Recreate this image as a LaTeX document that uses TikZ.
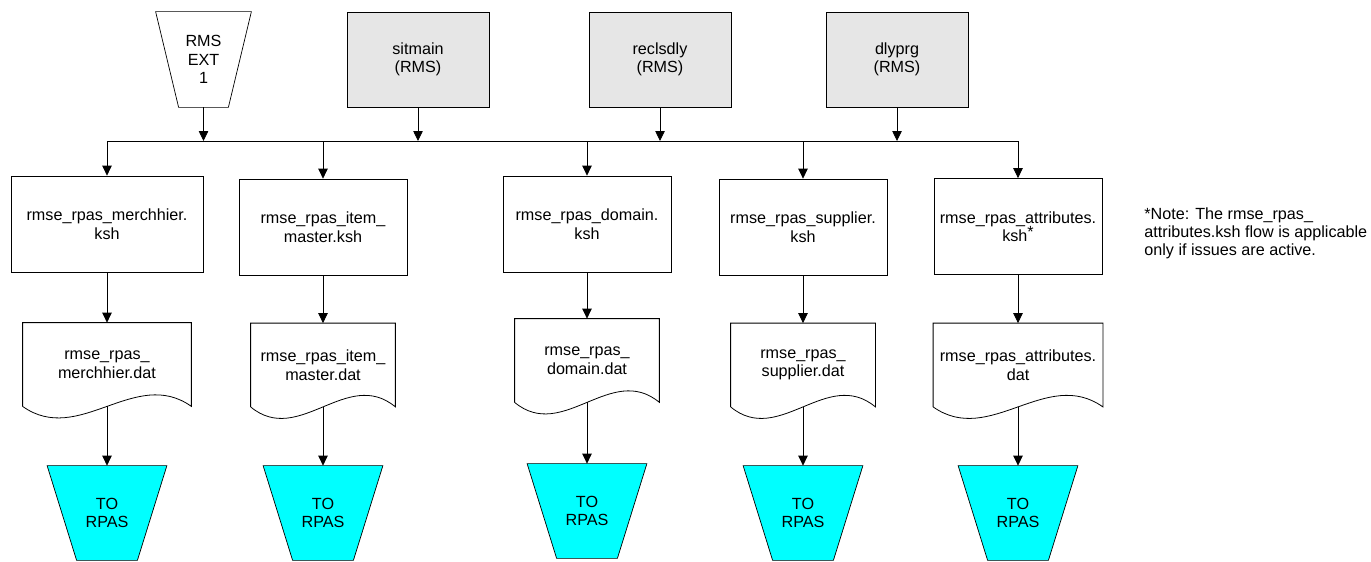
\documentclass[tikz,border=0pt]{standalone}
\usepackage{fontspec}
\setmainfont{Liberation Sans}
\usepackage{tikz}
\usetikzlibrary{arrows.meta,positioning,calc,backgrounds}
\definecolor{rmsgray}{HTML}{E6E6E6}
\definecolor{rpascyan}{HTML}{00FFFF}

% outline of a data file: straight top and sides, wavy bottom
\newcommand{\docwave}[1]{%
  \draw (#1.south west) -- (#1.north west) -- (#1.north east) -- (#1.south east)
    .. controls ($(#1.south east)!0.333!(#1.south west)+(0,-40)$) and ($(#1.south east)!0.667!(#1.south west)+(0,40)$) .. (#1.south west);}
% funnel outline: wide top, bottom narrowed by #2 on each side
\newcommand{\funnel}[3]{%
  \draw[fill=#3] (#1.north west) -- (#1.north east) -- ($(#1.south east)+(-#2,0)$) -- ($(#1.south west)+(#2,0)$) -- cycle;}

\begin{document}
\begin{tikzpicture}[
    x=0.02cm, y=-0.02cm, line width=0.45pt, font=\fontsize{9.2}{10.5}\selectfont,
    rmsbox/.style={draw, fill=rmsgray, minimum width=2.84cm, minimum height=1.9cm, align=center},
    kshbox/.style={draw, minimum width=3.36cm, minimum height=1.92cm, align=center},
    datbox/.style={minimum width=2.88cm, minimum height=1.66cm, align=center},
    extin/.style={minimum width=1.9cm, minimum height=1.9cm, inner sep=0pt, align=center},
    rpas/.style={minimum width=2.38cm, minimum height=1.88cm, inner sep=0pt, align=center},
    arrow/.style={-{Triangle[length=2mm, width=1.9mm]}}
]
\useasboundingbox (0,0) rectangle (1371,561);

\node[extin] (ext) at (203.5,59.5) {RMS\\EXT\\1};
\node[rmsbox] (sitmain) at (418,59.5) {sitmain\\(RMS)};
\node[rmsbox] (reclsdly) at (660,59.5) {reclsdly\\(RMS)};
\node[rmsbox] (dlyprg) at (897,59.5) {dlyprg\\(RMS)};

\coordinate (busL) at (107,141);
\coordinate (busR) at (1018,141);

\node[kshbox, minimum width=3.84cm] (merch-ksh) at (107,224) {rmse\_rpas\_merchhier.\\ksh};
\node[kshbox] (item-ksh) at (323,227) {rmse\_rpas\_item\_\\master.ksh};
\node[kshbox] (domain-ksh) at (587,224) {rmse\_rpas\_domain.\\ksh};
\node[kshbox] (supp-ksh) at (803,227) {rmse\_rpas\_supplier.\\ksh};
\node[kshbox] (attr-ksh) at (1018,226.5) {rmse\_rpas\_attributes.\\ksh\raisebox{0.45ex}{*}};

\node[datbox, minimum width=3.36cm] (merch-dat) at (107,364.5) {rmse\_rpas\_\\merchhier.dat};
\node[datbox] (item-dat) at (323,365) {rmse\_rpas\_item\_\\master.dat};
\node[datbox] (domain-dat) at (587,360.5) {rmse\_rpas\_\\domain.dat};
\node[datbox] (supp-dat) at (803,365) {rmse\_rpas\_\\supplier.dat};
\node[datbox, minimum width=3.38cm] (attr-dat) at (1018,365) {rmse\_rpas\_attributes.\\dat};

\node[rpas] (merch-rpas) at (107,513) {TO\\RPAS};
\node[rpas] (item-rpas) at (323,513) {TO\\RPAS};
\node[rpas] (domain-rpas) at (587,511) {TO\\RPAS};
\node[rpas] (supp-rpas) at (803,513) {TO\\RPAS};
\node[rpas] (attr-rpas) at (1018,513) {TO\\RPAS};

\node[anchor=north west, align=left, inner sep=0pt, font=\fontsize{9.2}{10.3}\selectfont] (note) at (1144,207)
  {*Note: The rmse\_rpas\_\\attributes.ksh flow is applicable\\only if issues are active.};

\begin{scope}[on background layer]
  \funnel{ext}{23}{white}
  \foreach \col in {merch,item,domain,supp,attr} {
    \funnel{\col-rpas}{29.5}{rpascyan}
  }
\end{scope}

\foreach \src in {ext,sitmain,reclsdly,dlyprg}
  \draw[arrow] (\src) -- (\src |- busL);
\draw (busL) -- (busR);

\foreach \col in {merch,item,domain,supp,attr} {
  \docwave{\col-dat}
  \draw[arrow] (\col-ksh |- busL) -- (\col-ksh);
  \draw[arrow] (\col-ksh) -- (\col-dat);
  \draw[arrow] (\col-dat) -- (\col-rpas);
}

\end{tikzpicture}
\end{document}
